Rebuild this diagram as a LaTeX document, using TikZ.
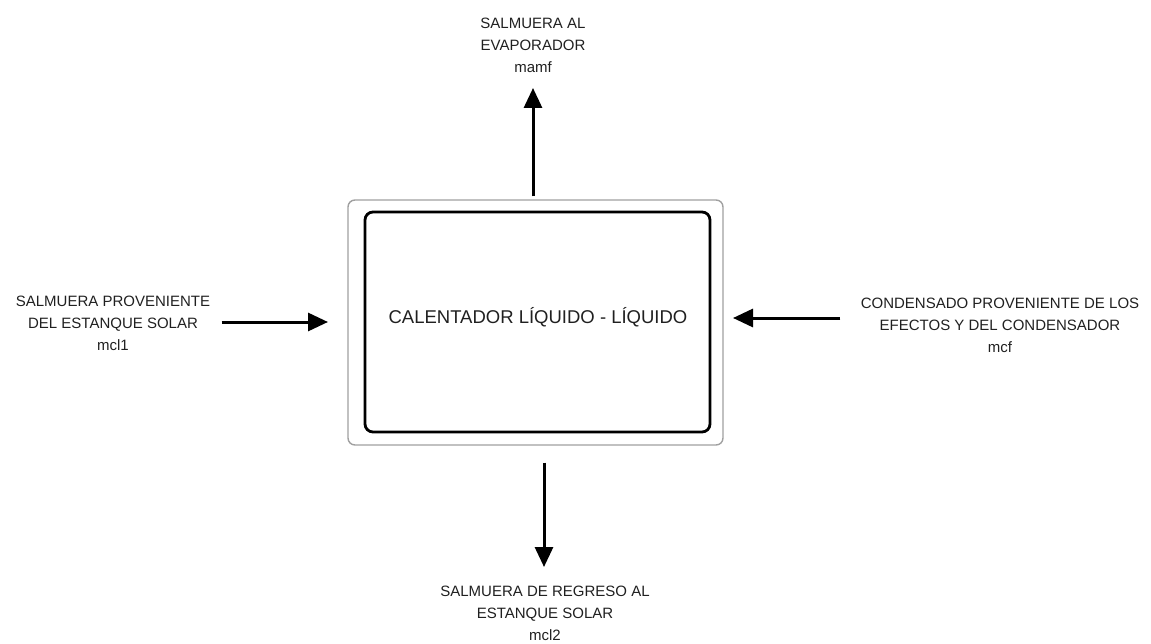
\documentclass[tikz,border=0pt]{standalone}
\usepackage{fontspec}
\setmainfont{Liberation Sans}
\usetikzlibrary{arrows.meta,positioning,calc}
\definecolor{boxOuter}{HTML}{A0A0A0}
\definecolor{txtDark}{HTML}{202020}

\begin{document}
\begin{tikzpicture}[
    x=1pt, y=-1pt,
    flow/.style={line width=3pt,-{Triangle[length=20pt,width=18pt]}},
    frame/.style={draw=boxOuter, line width=1.4pt, rounded corners=7pt,
                  minimum width=375pt, minimum height=245pt},
    core/.style={draw=black, line width=2.8pt, rounded corners=8pt,
                 minimum width=345pt, minimum height=220pt},
    stream/.style={align=center, text=txtDark,
                   font=\fontsize{15}{22}\selectfont},
]
\useasboundingbox (0,0) rectangle (1151,644);

%-----------------------------------------------------------------------
% heater
\node[frame] (outer) at (535.5,322.5) {};
\node[core] (inner) at (537.5,322) {};
\node[text=txtDark, font=\fontsize{18.5}{22}\selectfont] (heatlbl) at (538,317)
  {CALENTADOR LÍQUIDO - LÍQUIDO};

%-----------------------------------------------------------------------
% streams
\node[stream] (lblL) at (113,323) {SALMUERA PROVENIENTE\\DEL ESTANQUE SOLAR\\mcl1};
\node[stream] (lblR) at (1000,325) {CONDENSADO PROVENIENTE DE LOS\\EFECTOS Y DEL CONDENSADOR\\mcf};
\node[stream] (lblT) at (533,45) {SALMUERA AL\\EVAPORADOR\\mamf};
\node[stream] (lblB) at (545,613) {SALMUERA DE REGRESO AL\\ESTANQUE SOLAR\\mcl2};

% arrow tips
\coordinate (tipL) at (328,322);
\coordinate (tipR) at (733,318);
\coordinate (tipT) at (533,88);
\coordinate (tipB) at (544,567);

\draw[flow, shorten <=8pt] (lblL.east |- tipL) -- (tipL);
\draw[flow, shorten <=17pt] (lblR.west |- tipR) -- (tipR);
\draw[flow, shorten <=3pt] (outer.north -| tipT) -- (tipT);
\draw[flow, shorten <=17pt] (outer.south -| tipB) -- (tipB);

\end{tikzpicture}
\end{document}
